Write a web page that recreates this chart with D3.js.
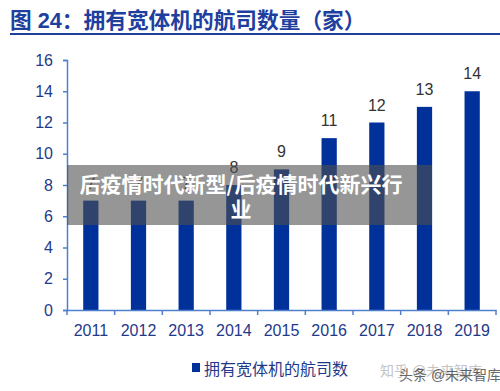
<!DOCTYPE html>
<html>
<head>
<meta charset="utf-8">
<script src="https://cdn.jsdelivr.net/npm/d3@7"></script>
<style>
  body { margin: 0; background: #fff; }
  svg text { font-family: "Liberation Sans", "Noto Sans CJK SC", sans-serif; }
</style>
</head>
<body>
<div id="chart"></div>
<script>
var years = ["2011", "2012", "2013", "2014", "2015", "2016", "2017", "2018", "2019"];
var airlineCount = [7, 7, 7, 8, 9, 11, 12, 13, 14];
var yTicks = [0, 2, 4, 6, 8, 10, 12, 14, 16];
var titleText = "图 24：拥有宽体机的航司数量（家）";
var legendText = "拥有宽体机的航司数";
var overlayLines = ["后疫情时代新型/后疫情时代新兴行", "业"];

(function () {
  'use strict'

  var W = 500, H = 391;
  var margin = {top: 60, right: 4, bottom: 81, left: 67};
  var width = W - margin.left - margin.right,
      height = H - margin.top - margin.bottom;

  var blue = "#00319a", axisBlue = "#4f7fca", textBlue = "#1f3a8a";

  var svg = d3.select("#chart").append("svg")
    .attr("width", W)
    .attr("height", H);

  // title + underline
  svg.append("text")
    .attr("x", 10).attr("y", 28)
    .attr("font-size", 21.7).attr("font-weight", "bold")
    .attr("fill", "#1f3f9f")
    .text(titleText);
  svg.append("line")
    .attr("x1", 10).attr("x2", 500).attr("y1", 34).attr("y2", 34)
    .attr("stroke", "#1f3f9f").attr("stroke-width", 2);

  var g = svg.append("g")
    .attr("transform", "translate(" + margin.left + "," + margin.top + ")");

  var x = d3.scaleBand().domain(years).range([0, width]).paddingInner(0.68).paddingOuter(0.34);
  var y = d3.scaleLinear().domain([0, 16]).range([height, 0]);

  g.selectAll(".bar")
    .data(years)
    .enter().append("rect")
    .attr("class", "bar")
    .attr("x", function(d){ return x(d); })
    .attr("y", function(d, i){ return y(airlineCount[i]); })
    .attr("width", x.bandwidth())
    .attr("height", function(d, i){ return height - y(airlineCount[i]); })
    .attr("fill", blue);

  g.selectAll(".valLbl")
    .data(years)
    .enter().append("text")
    .attr("class", "valLbl")
    .attr("x", function(d){ return x(d) + x.bandwidth() / 2; })
    .attr("y", function(d, i){ return y(airlineCount[i]) - 12; })
    .attr("text-anchor", "middle")
    .attr("font-size", 16)
    .attr("fill", "#333")
    .text(function(d, i){ return airlineCount[i]; });

  // y axis
  var yAxis = g.append("g")
    .call(d3.axisLeft(y).tickValues(yTicks).tickSize(4).tickPadding(10));
  yAxis.select(".domain").attr("stroke", axisBlue).attr("stroke-width", 1.5);
  yAxis.selectAll(".tick line").attr("stroke", axisBlue).attr("stroke-width", 1.5);
  yAxis.selectAll(".tick text").attr("font-size", 16).attr("fill", textBlue)
    .style("font-family", "Liberation Sans, sans-serif");

  // x axis with boundary ticks
  var xAxis = g.append("g")
    .attr("transform", "translate(0," + height + ")")
    .call(d3.axisBottom(x).tickSize(0).tickPadding(15));
  xAxis.select(".domain").attr("stroke", axisBlue).attr("stroke-width", 1.5);
  xAxis.selectAll(".tick text").attr("font-size", 16).attr("fill", textBlue)
    .style("font-family", "Liberation Sans, sans-serif");
  var step = x.step();
  xAxis.selectAll(".bound")
    .data(d3.range(years.length + 1))
    .enter().append("line")
    .attr("class", "bound")
    .attr("x1", function(i){ return x(years[0]) - step * 0.34 + i * step; })
    .attr("x2", function(i){ return x(years[0]) - step * 0.34 + i * step; })
    .attr("y1", 0).attr("y2", 5)
    .attr("stroke", axisBlue).attr("stroke-width", 1.5);

  // legend
  svg.append("rect")
    .attr("x", 192).attr("y", 363).attr("width", 8).attr("height", 9)
    .attr("fill", blue);
  svg.append("text")
    .attr("x", 204).attr("y", 375)
    .attr("font-size", 16).attr("fill", textBlue)
    .text(legendText);

  // watermark
  svg.append("text")
    .attr("x", 380).attr("y", 376).attr("font-size", 14).attr("fill", "#c4c4c4")
    .text("知乎 @未来智库");
  svg.append("text")
    .attr("x", 399).attr("y", 380).attr("font-size", 14).attr("fill", "#444").attr("opacity", 0.8)
    .text("头条 @未来智库");

  // overlay caption
  svg.append("rect")
    .attr("x", 67).attr("y", 165).attr("width", 365).attr("height", 60)
    .attr("fill", "rgb(80,80,80)").attr("opacity", 0.6);
  svg.selectAll(".ovl")
    .data(overlayLines)
    .enter().append("text")
    .attr("class", "ovl")
    .attr("x", 241)
    .attr("y", function(d, i){ return 192 + i * 25; })
    .attr("text-anchor", "middle")
    .attr("font-size", 21).attr("font-weight", "bold")
    .attr("fill", "#fff")
    .style("font-family", "Noto Sans CJK SC, sans-serif")
    .text(function(d){ return d; });
})()
</script>
</body>
</html>
